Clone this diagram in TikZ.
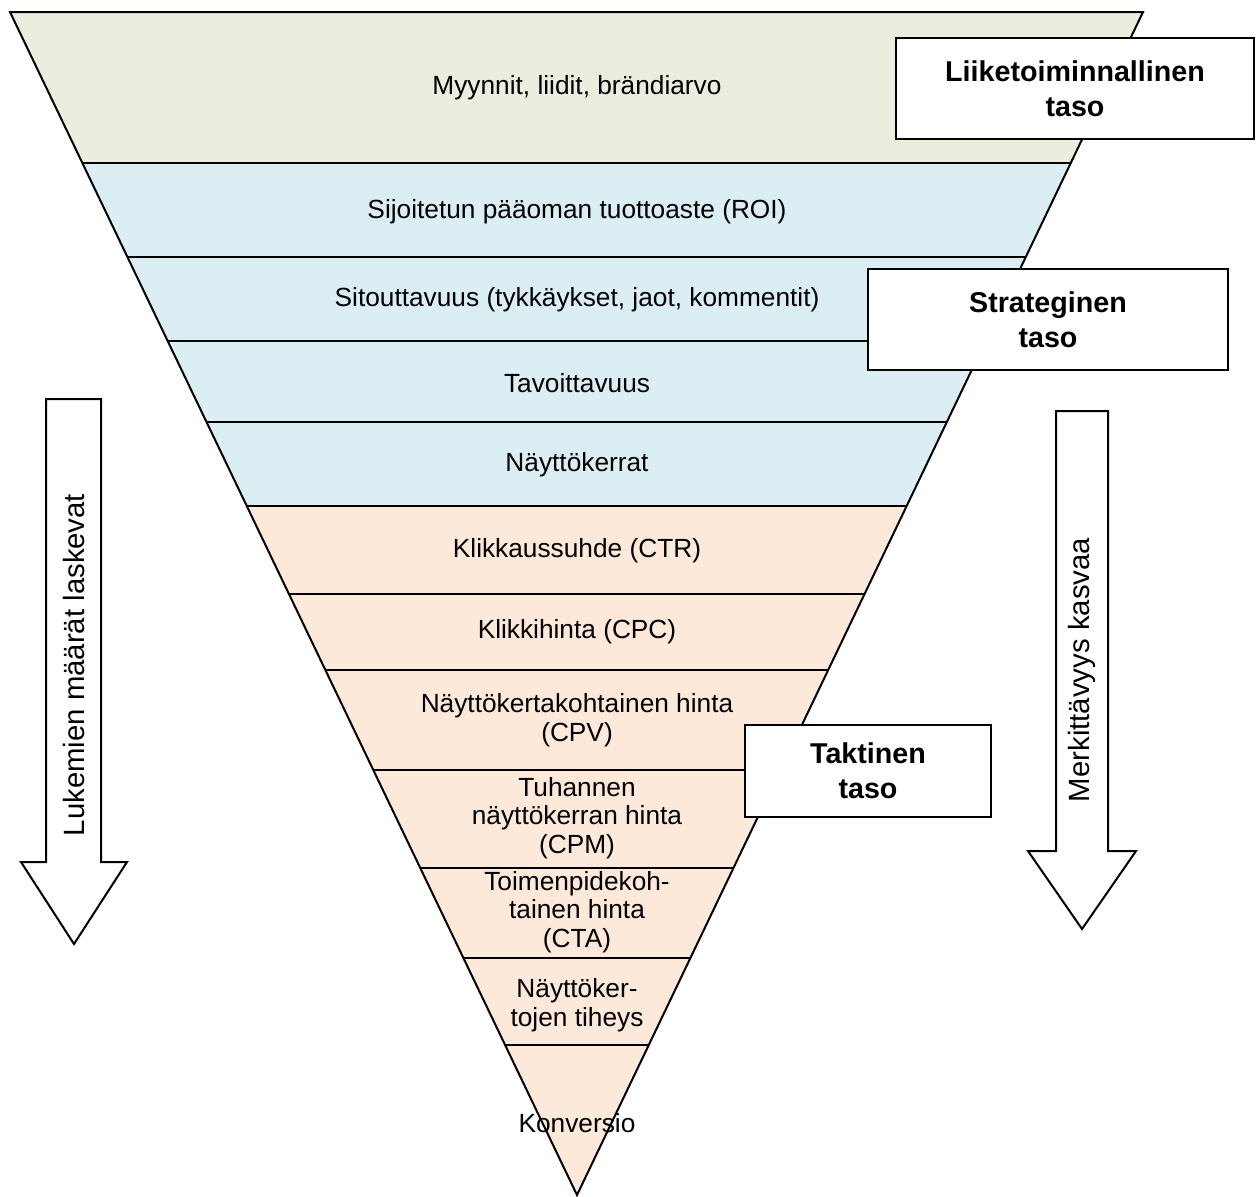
\documentclass[tikz,border=0pt]{standalone}
\usepackage{fontspec}
\setmainfont{Liberation Sans}
\definecolor{greenfill}{HTML}{EBEEDE}
\definecolor{bluefill}{HTML}{DBEEF4}
\definecolor{orangefill}{HTML}{FDE9D9}
\begin{document}
\begin{tikzpicture}[x=0.75pt,y=-0.75pt,
  lvl/.style={font=\fontsize{19.7}{21.4}\selectfont, align=center, inner sep=0pt},
  tier/.style={draw=black, line width=1.2pt, fill=white, inner sep=0pt,
    font=\bfseries\fontsize{21.5}{26.3}\selectfont, align=center},
  funnelline/.style={line width=1.5pt},
  blockarrow/.style={draw=black, line width=1.5pt, fill=white, line join=miter},
  vlabel/.style={rotate=90, font=\fontsize{22}{26}\selectfont, inner sep=0pt}]
\useasboundingbox (0,0) rectangle (1259,1196);
\coordinate (TL) at (10,12);
\coordinate (TR) at (1143,12);
\coordinate (B) at (577,1195);
% funnel bands
\begin{scope}
  \clip (TL) -- (TR) -- (B) -- cycle;
  \fill[greenfill] (0,0) rectangle (1259,163);
  \fill[bluefill] (0,163) rectangle (1259,506);
  \fill[orangefill] (0,506) rectangle (1259,1196);
  \foreach \yy in {163,257,341,422,506,594,670,770,868,958,1045}
    \draw[funnelline] (0,\yy) -- (1259,\yy);
\end{scope}
\draw[funnelline, line join=miter] (TL) -- (TR) -- (B) -- cycle;
% band texts
\node[lvl] (myynnit) at (577,88) {Myynnit, liidit, brändiarvo};
\node[lvl] (roi) at (577,212) {Sijoitetun pääoman tuottoaste (ROI)};
\node[lvl] (sitout) at (577,300) {Sitouttavuus (tykkäykset, jaot, kommentit)};
\node[lvl] (tavoit) at (577,383) {Tavoittavuus};
\node[lvl] (nayttok) at (577,465) {Näyttökerrat};
\node[lvl] (ctr) at (577,551) {Klikkaussuhde (CTR)};
\node[lvl] (cpc) at (577,632) {Klikkihinta (CPC)};
\node[lvl] (cpv) at (577,720) {Näyttökertakohtainen hinta\\(CPV)};
\node[lvl] (cpm) at (577,818) {Tuhannen\\näyttökerran hinta\\(CPM)};
\node[lvl] (cta) at (577,912) {Toimenpidekoh-\\tainen hinta\\(CTA)};
\node[lvl] (tiheys) at (577,1005) {Näyttöker-\\tojen tiheys};
\node[lvl] (konv) at (577,1123) {Konversio};
% tier boxes
\node[tier, minimum width=268.5pt, minimum height=75.75pt] (liike) at (1075,88.5) {Liiketoiminnallinen\\taso};
\node[tier, minimum width=270pt, minimum height=75.75pt] (strat) at (1048,319.5) {Strateginen\\taso};
\node[tier, minimum width=184.5pt, minimum height=69pt] (takt) at (868,771) {Taktinen\\taso};
% block arrows
\draw[blockarrow] (46,399) -- (101,399) -- (101,862) -- (127,862) -- (74,944) -- (21,862) -- (46,862) -- cycle;
\draw[blockarrow] (1056,411) -- (1108,411) -- (1108,851) -- (1136,851) -- (1082,929) -- (1028,851) -- (1056,851) -- cycle;
\node[vlabel] (lukemien) at (74,665) {Lukemien määrät laskevat};
\node[vlabel] (merkit) at (1082,670) {Merkittävyys kasvaa};
\end{tikzpicture}
\end{document}
